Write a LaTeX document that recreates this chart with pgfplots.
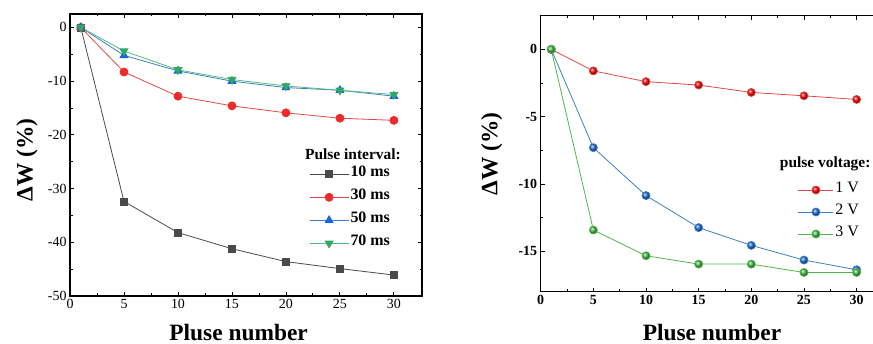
\documentclass[border=0pt]{standalone}
\usepackage{fontspec}
\setmainfont{Liberation Serif}
\usepackage{pgfplots}
\pgfplotsset{compat=1.18}
\definecolor{cgray}{HTML}{4A4A4A}
\definecolor{cred}{HTML}{EE2B2B}
\definecolor{cblue}{HTML}{1763E0}
\definecolor{cgreen}{HTML}{2FA862}
\definecolor{lred}{HTML}{E04848}
\definecolor{lblue}{HTML}{3C7FC4}
\definecolor{lgreen}{HTML}{4CB84C}
\begin{document}
\begin{tikzpicture}
\pgfplotsset{
  common/.style={
    scale only axis,
    axis line style={line width=1.3bp},
    major tick length=4bp, minor tick length=2.5bp,
    tick style={line width=0.9bp, black},
    minor x tick num=1, minor y tick num=1,
    /pgf/number format/assume math mode=true,
    xlabel style={font=\bfseries\fontsize{23.5}{24}\selectfont},
    ylabel style={font=\bfseries\fontsize{23.5}{24}\selectfont},
  },
  legL/.style={legend image code/.code={\draw[mark repeat=2,mark phase=2] plot coordinates {(0bp,0bp)(19.5bp,0bp)(39bp,0bp)};}},
  legR/.style={legend image code/.code={\draw[mark repeat=2,mark phase=2] plot coordinates {(0bp,0bp)(17.5bp,0bp)(35bp,0bp)};}},
}
% ---------------- left
\begin{axis}[common,
  at={(70bp,48bp)}, anchor=south west,
  width=352bp, height=282bp,
  xmin=0, xmax=32.6, ymin=-50, ymax=2.5,
  xtick={0,5,...,30}, ytick={-50,-40,...,0},
  tick label style={font=\fontsize{14}{14}\selectfont},
  xlabel={Pluse number},
  ylabel={ΔW (\%)},
  xlabel style={at={(axis description cs:0.479,-0.158)}, anchor=base},
  ylabel style={at={(axis description cs:-0.122,0.482)}, anchor=center},
  legend style={draw=none, fill=none, inner sep=0pt,
    at={(axis description cs:0.679,0.473)}, anchor=north west,
    font=\bfseries\fontsize{16}{16}\selectfont,
    nodes={inner sep=1.5bp, text height=12bp, text depth=8bp},
    row sep=0pt},
  legend cell align=left,
]
\addplot[legL, cgray, line width=0.8bp, mark=square*, mark size=3.5bp, mark options={fill=cgray}] coordinates {(1,0)(5,-32.4)(10,-38.2)(15,-41.2)(20,-43.6)(25,-44.9)(30,-46.1)};
\addlegendentry{10 ms}
\addplot[legL, lred, line width=0.8bp, mark=*, mark size=4bp, mark options={fill=cred, draw=cred}] coordinates {(1,0)(5,-8.3)(10,-12.8)(15,-14.6)(20,-15.9)(25,-16.9)(30,-17.3)};
\addlegendentry{30 ms}
\addplot[legL, lblue, line width=0.8bp, mark=triangle*, mark size=4.5bp, mark options={fill=cblue, draw=cblue}] coordinates {(1,0)(5,-5.2)(10,-8.1)(15,-10.0)(20,-11.2)(25,-11.7)(30,-12.8)};
\addlegendentry{50 ms}
\addplot[legL, cgreen!80, line width=0.8bp, mark=triangle*, mark size=4.5bp, mark options={fill=cgreen, draw=cgreen, rotate=180}] coordinates {(1,0)(5,-4.4)(10,-7.9)(15,-9.7)(20,-10.9)(25,-11.7)(30,-12.5)};
\addlegendentry{70 ms}
\node[anchor=west, inner sep=0pt, font=\bfseries\fontsize{15.5}{15.5}\selectfont] at (axis cs:21.76,-23.6) {Pulse interval:};
\end{axis}
% ---------------- right
\begin{axis}[common,
  at={(540.7bp,52.3bp)}, anchor=south west,
  width=347.5bp, height=276bp,
  xmin=0, xmax=33, ymin=-18, ymax=2.5,
  xtick={0,5,...,30}, ytick={-15,-10,-5,0},
  tick label style={font=\bfseries\fontsize{14}{14}\selectfont},
  xlabel={Pluse number},
  ylabel={ΔW (\%)},
  xlabel style={at={(axis description cs:0.493,-0.177)}, anchor=base},
  ylabel style={at={(axis description cs:-0.141,0.499)}, anchor=center},
  legend style={draw=none, fill=none, inner sep=0pt,
    at={(axis description cs:0.740,0.409)}, anchor=north west,
    font=\fontsize{16}{16}\selectfont,
    nodes={inner sep=1.5bp, text height=12bp, text depth=7bp},
    row sep=0pt},
  legend cell align=left,
]
\addplot[legR, lred, line width=0.8bp, mark=ball, mark size=4bp, mark options={ball color=red}] coordinates {(1,0)(5,-1.6)(10,-2.4)(15,-2.65)(20,-3.2)(25,-3.45)(30,-3.72)};
\addlegendentry{1 V}
\addplot[legR, lblue, line width=0.8bp, mark=ball, mark size=4bp, mark options={ball color=cblue!70!lblue}] coordinates {(1,0)(5,-7.3)(10,-10.86)(15,-13.24)(20,-14.56)(25,-15.65)(30,-16.37)};
\addlegendentry{2 V}
\addplot[legR, lgreen, line width=0.8bp, mark=ball, mark size=4bp, mark options={ball color=lgreen}] coordinates {(1,0)(5,-13.42)(10,-15.33)(15,-15.95)(20,-15.95)(25,-16.57)(30,-16.57)};
\addlegendentry{3 V}
\node[anchor=west, inner sep=0pt, font=\bfseries\fontsize{15.5}{15.5}\selectfont] at (axis cs:22.7,-8.5) {pulse voltage:};
\end{axis}
\pgfresetboundingbox
\useasboundingbox (0,0) rectangle (873bp,344bp);
\end{tikzpicture}
\end{document}
